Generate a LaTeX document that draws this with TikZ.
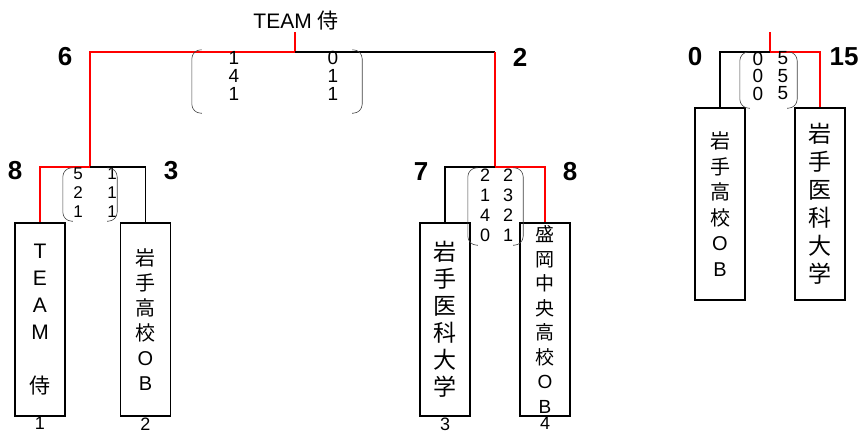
\documentclass[tikz,border=0pt]{standalone}
\usepackage{fontspec}
\setmainfont{Liberation Sans}
\newfontfamily\jp{Noto Sans CJK JP}
\begin{document}
\begin{tikzpicture}[x=1pt,y=-1pt]
    \tikzstyle{every node}=[inner sep=0pt];
    \tikzstyle{team}=[draw,line width=1.8pt,minimum width=50,minimum height=193,align=center];
    \tikzstyle{pts}=[font=\bfseries\fontsize{26}{26}\selectfont];
    \tikzstyle{seed}=[font=\fontsize{18}{18}\selectfont];
    \tikzstyle{game}=[align=center];
    \tikzstyle{win}=[draw=red,line width=1.7pt];
    \tikzstyle{lose}=[draw=black,line width=1.7pt];
    \tikzstyle{paren}=[draw=black!75,line width=0.6pt,rounded corners=9pt];
    \useasboundingbox (0, 0) rectangle (861, 434);

    % teams
    \node at (40, 319.5)    (b1) [team,font=\fontsize{21}{27}\selectfont,label={[seed,label distance=0.5pt]below:1}] {T\\E\\A\\M\\[27pt]{\jp 侍}};
    \node at (145.5, 319.5) (b2) [team,font=\jp\fontsize{20}{25}\selectfont,label={[seed,label distance=0.5pt]below:2}] {岩\\手\\高\\校\\{\rmfamily O}\\{\rmfamily B}};
    \node at (445, 319.5)   (b3) [team,font=\jp\fontsize{23}{27}\selectfont,label={[seed,label distance=0.5pt]below:3}] {岩\\手\\医\\科\\大\\学};
    \node at (545, 319.5)   (b4) [team,font=\jp\fontsize{19}{24.5}\selectfont,label={[seed,label distance=0.5pt]below:4}] {盛\\岡\\中\\央\\高\\校\\{\rmfamily O}\\{\rmfamily B}};
    \node at (720, 204)     (b5) [team,minimum height=192,font=\jp\fontsize{20}{25.5}\selectfont] {岩\\手\\高\\校\\{\rmfamily O}\\{\rmfamily B}};
    \node at (820, 204)     (b6) [team,minimum height=192,font=\jp\fontsize{23}{28}\selectfont] {岩\\手\\医\\科\\大\\学};

    \node at (296, 21) (champ) [font=\fontsize{21}{21}\selectfont] {TEAM {\jp 侍}};

    % points
    \node at (65, 57)   (r0l) [pts] {6};
    \node at (520, 57)  (r0r) [pts] {2};
    \node at (15, 171)  (r1l) [pts] {8};
    \node at (171, 171) (r1r) [pts] {3};
    \node at (421, 172) (r2l) [pts] {7};
    \node at (570, 172) (r2r) [pts] {8};
    \node at (695, 57)  (r3l) [pts] {0};
    \node at (844, 57)  (r3r) [pts] {15};

    % bracket lines
    \coordinate (t0) at (295, 32);
    \coordinate (j0) at (295, 52);
    \coordinate (c0) at (495, 52);
    \coordinate (m1) at (90, 167);
    \coordinate (m2) at (495, 167);
    \coordinate (t3) at (770, 32);
    \coordinate (m3) at (770, 52);

    \draw[win]  (t0) -- (j0);
    \draw[win]  (j0) -| (m1);
    \draw[lose] (j0) -- (c0);
    \draw[win]  (c0) -- (m2);
    \draw[win]  (m1) -| (b1.north);
    \draw[lose] (m1) -| (b2.north);
    \draw[lose] (m2) -| (b3.north);
    \draw[win]  (m2) -| (b4.north);
    \draw[win]  (t3) -- (m3);
    \draw[lose] (m3) -| (b5.north);
    \draw[win]  (m3) -| (b6.north);

    % set scores
    \node at (277, 81.5)  (g0) [minimum width=170,minimum height=63] {};
    \node at (90, 194.5)  (g1) [minimum width=54,minimum height=53] {};
    \node at (495.5, 206.5) (g2) [minimum width=55,minimum height=77] {};
    \node at (768.5, 80)  (g3) [minimum width=57,minimum height=56] {};

    \node at (234, 76)  (g0l) [game,font=\fontsize{19}{18}\selectfont] {1\\4\\1};
    \node at (333, 76)  (g0r) [game,font=\fontsize{19}{18}\selectfont] {0\\1\\1};
    \node at (78, 193)  (g1l) [game,font=\fontsize{17}{19}\selectfont] {5\\2\\1};
    \node at (112, 193) (g1r) [game,font=\fontsize{17}{19}\selectfont] {1\\1\\1};
    \node at (485, 205) (g2l) [game,font=\fontsize{18}{20}\selectfont] {2\\1\\4\\0};
    \node at (508, 205) (g2r) [game,font=\fontsize{18}{20}\selectfont] {2\\3\\2\\1};
    \node at (758, 76)  (g3l) [game,font=\fontsize{19}{17.5}\selectfont] {0\\0\\0};
    \node at (783, 76)  (g3r) [game,font=\fontsize{19}{17.5}\selectfont] {5\\5\\5};

    \draw[paren] ([xshift=10pt]g0.north west) -- (g0.north west) -- (g0.south west) -- ([xshift=10pt]g0.south west);
    \draw[paren] ([xshift=-10pt]g0.north east) -- (g0.north east) -- (g0.south east) -- ([xshift=-10pt]g0.south east);
    \draw[paren] ([xshift=10pt]g1.north west) -- (g1.north west) -- (g1.south west) -- ([xshift=10pt]g1.south west);
    \draw[paren] ([xshift=-10pt]g1.north east) -- (g1.north east) -- (g1.south east) -- ([xshift=-10pt]g1.south east);
    \draw[paren] ([xshift=10pt]g2.north west) -- (g2.north west) -- (g2.south west) -- ([xshift=10pt]g2.south west);
    \draw[paren] ([xshift=-10pt]g2.north east) -- (g2.north east) -- (g2.south east) -- ([xshift=-10pt]g2.south east);
    \draw[paren] ([xshift=10pt]g3.north west) -- (g3.north west) -- (g3.south west) -- ([xshift=10pt]g3.south west);
    \draw[paren] ([xshift=-10pt]g3.north east) -- (g3.north east) -- (g3.south east) -- ([xshift=-10pt]g3.south east);
\end{tikzpicture}
\end{document}
